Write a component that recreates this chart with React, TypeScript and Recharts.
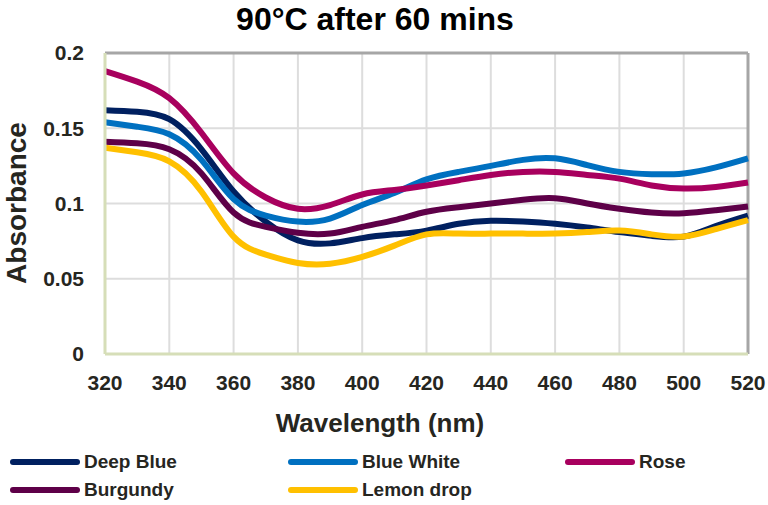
import React from 'react';
import { LineChart, Line, XAxis, YAxis, CartesianGrid, ReferenceLine } from 'recharts';

const wavelengths = [320, 330, 340, 350, 360, 370, 380, 390, 400, 410, 420, 430, 440, 450, 460, 470, 480, 490, 500, 510, 520];
const deepBlue = [0.162, 0.161, 0.156, 0.136, 0.108, 0.088, 0.0755, 0.0735, 0.077, 0.0795, 0.082, 0.0865, 0.0885, 0.088, 0.0865, 0.084, 0.081, 0.0785, 0.078, 0.085, 0.092];
const blueWhite = [0.154, 0.151, 0.146, 0.129, 0.103, 0.092, 0.088, 0.09, 0.099, 0.107, 0.116, 0.121, 0.125, 0.129, 0.13, 0.1255, 0.121, 0.1195, 0.12, 0.124, 0.13];
const rose = [0.188, 0.181, 0.17, 0.147, 0.12, 0.104, 0.0965, 0.099, 0.106, 0.109, 0.112, 0.1155, 0.119, 0.121, 0.121, 0.119, 0.1165, 0.112, 0.11, 0.111, 0.114];
const burgundy = [0.141, 0.14, 0.136, 0.12, 0.094, 0.0845, 0.0805, 0.08, 0.0845, 0.089, 0.0945, 0.0975, 0.1, 0.1025, 0.1035, 0.1, 0.0965, 0.094, 0.0935, 0.0955, 0.098];
const lemonDrop = [0.137, 0.134, 0.128, 0.108, 0.078, 0.066, 0.0605, 0.06, 0.0645, 0.072, 0.0795, 0.08, 0.08, 0.08, 0.08, 0.081, 0.082, 0.0795, 0.078, 0.083, 0.089];

const seriesNames = ['Deep Blue', 'Blue White', 'Rose', 'Burgundy', 'Lemon drop'];
const seriesValues = [deepBlue, blueWhite, rose, burgundy, lemonDrop];
const seriesColors = ['#002060', '#0070C0', '#A8005E', '#5E0048', '#FFC000'];

const xTicks = [320, 340, 360, 380, 400, 420, 440, 460, 480, 500, 520];
const yTicks = [0, 0.05, 0.1, 0.15, 0.2];

const title = '90°C after 60 mins';
const xTitle = 'Wavelength (nm)';
const yTitle = 'Absorbance';

const data = wavelengths.map((wl, i) => {
  const row: Record<string, number> = { wl };
  seriesValues.forEach((vals, k) => {
    row['s' + k] = vals[i];
  });
  return row;
});

const FONT = '"Liberation Sans", Arial, sans-serif';
const TEXT = '#26261f';

export default function App() {
  const tickStyle = { fontSize: 21, fontWeight: 700, fill: TEXT, fontFamily: FONT };
  const legendCols = [10, 288, 565];
  return (
    <div style={{ position: 'absolute', left: 0, top: 0, width: 768, height: 505, background: '#fff', fontFamily: FONT }}>
      <div style={{ position: 'absolute', left: 0, top: 1, width: 750, textAlign: 'center', fontSize: 32, lineHeight: '36px', fontWeight: 700, color: '#000' }}>{title}</div>
      <LineChart width={768} height={505} data={data} margin={{ top: 53, right: 20, bottom: 121, left: 0 }}>
        <CartesianGrid stroke="#DDDDDD" strokeWidth={2} verticalValues={xTicks} horizontalValues={yTicks} />
        <XAxis
          dataKey="wl"
          type="number"
          domain={[320, 520]}
          ticks={xTicks}
          height={30}
          tickSize={0}
          tickMargin={21}
          tick={tickStyle}
          axisLine={{ stroke: '#D6DEB8', strokeWidth: 3 }}
          interval={0}
        />
        <YAxis
          type="number"
          domain={[0, 0.2]}
          ticks={yTicks}
          width={105}
          tickSize={0}
          tickMargin={21}
          tick={tickStyle}
          axisLine={{ stroke: '#D6DEB8', strokeWidth: 3 }}
          tickFormatter={(v: number) => String(v)}
          interval={0}
        />
        <ReferenceLine y={0.2} stroke="#A6A6A6" strokeWidth={3} />
        <ReferenceLine x={520} stroke="#A6A6A6" strokeWidth={3} />
        {seriesNames.map((name, k) => (
          <Line
            key={name}
            name={name}
            dataKey={'s' + k}
            type="natural"
            stroke={seriesColors[k]}
            strokeWidth={6}
            dot={false}
            activeDot={false}
            isAnimationActive={false}
          />
        ))}
      </LineChart>
      <div style={{ position: 'absolute', left: 0, top: 408, width: 760, textAlign: 'center', fontSize: 26, lineHeight: '30px', fontWeight: 700, color: TEXT }}>{xTitle}</div>
      <div style={{ position: 'absolute', left: 16.5, top: 203, width: 0, height: 0 }}>
        <div style={{ position: 'absolute', left: -100, top: -16, width: 200, height: 32, textAlign: 'center', fontSize: 28, lineHeight: '32px', fontWeight: 700, color: TEXT, transform: 'rotate(-90deg)' }}>{yTitle}</div>
      </div>
      {seriesNames.map((name, k) => {
        const row = Math.floor(k / 3);
        const col = k % 3;
        return (
          <div key={name} style={{ position: 'absolute', left: legendCols[col], top: 449 + row * 28, height: 26, display: 'flex', alignItems: 'center' }}>
            <div style={{ width: 70, height: 6, borderRadius: 3, background: seriesColors[k] }} />
            <span style={{ marginLeft: 4, fontSize: 19, fontWeight: 700, color: TEXT, lineHeight: '26px' }}>{name}</span>
          </div>
        );
      })}
    </div>
  );
}
